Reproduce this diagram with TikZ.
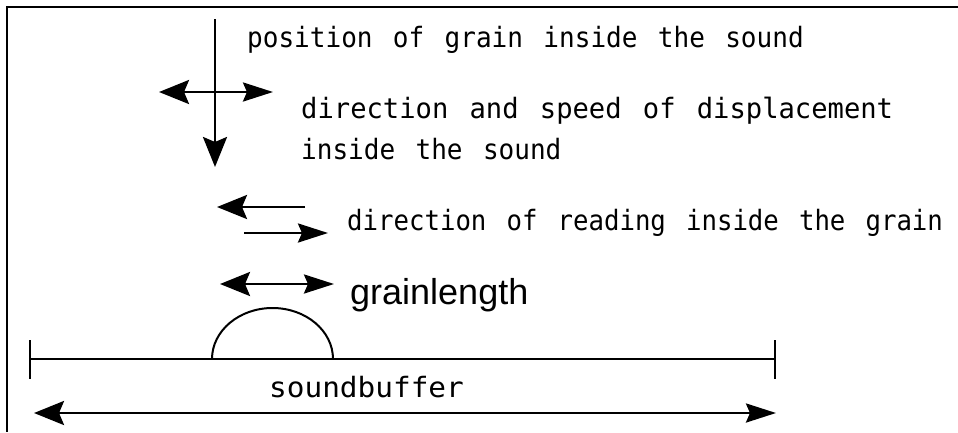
\documentclass[tikz,border=0pt]{standalone}
\usepackage{fontspec}
\newfontfamily\pixfont[FakeStretch=0.93,WordSpace=1.3]{DejaVu Sans Mono}
\newfontfamily\pixtwo[FakeStretch=0.97,WordSpace=1.3]{DejaVu Sans Mono}
\newfontfamily\pixfour[FakeStretch=0.918,WordSpace=1.3]{DejaVu Sans Mono}
\newfontfamily\pixwide[FakeStretch=1.05]{DejaVu Sans Mono}
\newfontfamily\helvfont{Liberation Sans}
\usetikzlibrary{arrows.meta}
\begin{document}
\begin{tikzpicture}[x=1pt,y=-1pt,
  lbl/.style={anchor=base west,inner sep=0pt,font=\pixfont\fontsize{28}{32}\selectfont},
  lbltwo/.style={anchor=base west,inner sep=0pt,font=\pixtwo\fontsize{28}{32}\selectfont},
  lblfour/.style={anchor=base west,inner sep=0pt,font=\pixfour\fontsize{28}{32}\selectfont},
  lblw/.style={anchor=base west,inner sep=0pt,font=\pixwide\fontsize{28}{32}\selectfont},
  lblh/.style={anchor=base west,inner sep=0pt,font=\helvfont\fontsize{36}{42}\selectfont},
  ln/.style={line width=2.8pt,line cap=butt},
  bighead/.tip={Stealth[length=30pt,width=24pt,inset=5pt]},
  smallhead/.tip={Stealth[length=30pt,width=19pt,inset=4pt]},
  frame/.style={line width=2.4pt}]
\useasboundingbox (0,0) rectangle (958,432);
% frame (top and left edges)
\coordinate (fr1) at (958,7);
\coordinate (fr2) at (7,7);
\coordinate (fr3) at (7,432);
\draw[frame] (fr1) -- (fr2) -- (fr3);
% labels
\node[lbl] (t1) at (247,47) {position of grain inside the sound};
\node[lbltwo] (t2) at (301,118) {direction and speed of displacement};
\node[lbl] (t3) at (301,159) {inside the sound};
\node[lblfour] (t4) at (347,230) {direction of reading inside the grain};
\node[lblh] (t5) at (350,304) {grainlength};
\node[lblw] (t6) at (269,397) {soundbuffer};
% position cross
\coordinate (vtop) at (215,19);
\coordinate (vbot) at (215,167);
\coordinate (hl) at (159,92);
\coordinate (hr) at (273,92);
\coordinate (hc) at (215,92);
\draw[ln,-{bighead}] (vtop) -- (vbot);
\draw[ln,-{bighead}] (hc) -- (hl);
\draw[ln,-{smallhead}] (hc) -- (hr);
% reading direction
\coordinate (r1a) at (305,207);
\coordinate (r1b) at (217,207);
\coordinate (r2a) at (244,233);
\coordinate (r2b) at (328,233);
\draw[ln,-{bighead}] (r1a) -- (r1b);
\draw[ln,-{smallhead}] (r2a) -- (r2b);
% grainlength
\coordinate (gl) at (220,284);
\coordinate (gr) at (334,284);
\draw[ln,{bighead}-{smallhead}] (gl) -- (gr);
% sound buffer
\coordinate (sbl) at (30,359);
\coordinate (sbr) at (775,359);
\coordinate (tl1) at (30,340);
\coordinate (tl2) at (30,379);
\coordinate (tr1) at (775,340);
\coordinate (tr2) at (775,379);
\draw[ln] (sbl) -- (sbr);
\draw[ln] (tl1) -- (tl2);
\draw[ln] (tr1) -- (tr2);
% grain hump
\coordinate (hump) at (212,359);
\draw[line width=2pt] (hump) arc[start angle=180,end angle=360,x radius=60.5,y radius=51];
% buffer arrow
\coordinate (bl) at (34,413);
\coordinate (br) at (776,413);
\draw[ln,{bighead}-{smallhead}] (bl) -- (br);
\end{tikzpicture}
\end{document}
